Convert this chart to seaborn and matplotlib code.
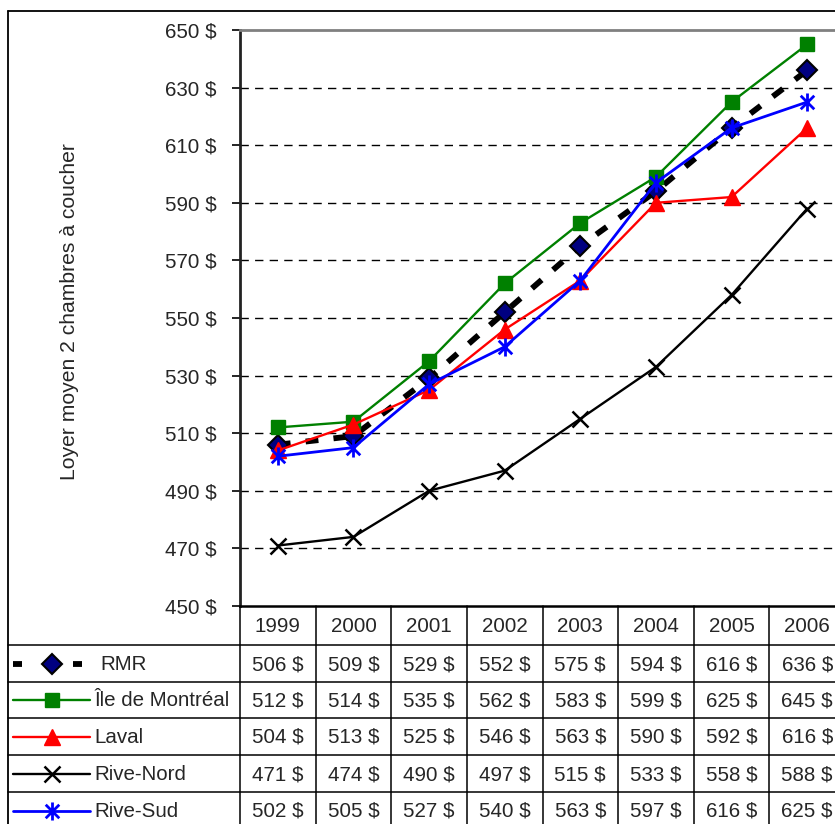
import numpy as np
import pandas as pd
import matplotlib
matplotlib.use("Agg")
import matplotlib.pyplot as plt
from matplotlib.path import Path
import seaborn as sns

# Average rent of a two-bedroom unit, by sector, 1999-2006
years = ["1999", "2000", "2001", "2002", "2003", "2004", "2005", "2006"]
series_names = ["RMR", "Île de Montréal", "Laval", "Rive-Nord", "Rive-Sud"]
rmr = [506, 509, 529, 552, 575, 594, 616, 636]
ile_montreal = [512, 514, 535, 562, 583, 599, 625, 645]
laval = [504, 513, 525, 546, 563, 590, 592, 616]
rive_nord = [471, 474, 490, 497, 515, 533, 558, 588]
rive_sud = [502, 505, 527, 540, 563, 597, 616, 625]
y_ticks = [450, 470, 490, 510, 530, 550, 570, 590, 610, 630, 650]
y_label = "Loyer moyen 2 chambres à coucher"

values = [rmr, ile_montreal, laval, rive_nord, rive_sud]

sns.set_style("white")
plt.rcParams["font.family"] = ["Liberation Sans", "DejaVu Sans"]
FS = 14.8

W, H = 835, 824
fig = plt.figure(figsize=(W / 100, H / 100), dpi=100)

# pixel layout helpers
def fx(px):
    return px / W

def fy(py):
    return 1 - py / H

plot_left, plot_right, plot_top, plot_bottom = 240, 845, 30, 606
ax = fig.add_axes([fx(plot_left), fy(plot_bottom),
                   fx(plot_right - plot_left), (plot_bottom - plot_top) / H])

# asterisk marker: vertical stroke plus two diagonals
ast = Path([(0, -1), (0, 1), (-0.75, -0.75), (0.75, 0.75), (-0.75, 0.75), (0.75, -0.75)],
           [Path.MOVETO, Path.LINETO, Path.MOVETO, Path.LINETO, Path.MOVETO, Path.LINETO])

styles = {
    "RMR": dict(color="black", lw=4.2, dashes=(2.2, 2.6), marker="D", ms=10.5,
                mfc="#000080", mec="black", mew=1.5),
    "Île de Montréal": dict(color="#008000", lw=1.7, dashes=None, marker="s", ms=10,
                            mfc="#008000", mec="#008000", mew=1),
    "Laval": dict(color="#ff0000", lw=1.7, dashes=None, marker="^", ms=11,
                  mfc="#ff0000", mec="#ff0000", mew=1),
    "Rive-Nord": dict(color="black", lw=1.7, dashes=None, marker="x", ms=11.5,
                      mfc="black", mec="black", mew=1.8),
    "Rive-Sud": dict(color="#0000ff", lw=2.0, dashes=None, marker=ast, ms=13,
                     mfc="#0000ff", mec="#0000ff", mew=2.0),
}

xpos = np.arange(len(years))
for i, (name, vals) in enumerate(zip(series_names, values)):
    st = styles[name]
    df = pd.DataFrame({"x": xpos, "y": vals})
    kw = {}
    if st["dashes"] is not None:
        kw["dashes"] = st["dashes"]
    sns.lineplot(data=df, x="x", y="y", ax=ax, color=st["color"], linewidth=st["lw"],
                 marker=st["marker"], markersize=st["ms"], markerfacecolor=st["mfc"],
                 markeredgecolor=st["mec"], markeredgewidth=st["mew"], zorder=3 + i,
                 clip_on=False, **kw)

ax.set_xlim(-0.5, len(years) - 0.5)
ax.set_ylim(450, 650)
ax.set_yticks(y_ticks)
ax.set_yticklabels([f"{v} $" for v in y_ticks], fontsize=FS)
ax.set_xticks([])
ax.set_xlabel("")
ax.set_ylabel("")
ax.tick_params(axis="y", which="major", direction="out", length=6, width=1.2,
               color="black", pad=11, left=True)
for v in y_ticks[1:-1]:
    ax.axhline(v, color="black", lw=1, dashes=(6, 4.5), zorder=1)
ax.spines["left"].set_color("#222222")
ax.spines["left"].set_linewidth(2)
ax.spines["top"].set_color("#808080")
ax.spines["top"].set_linewidth(2)
ax.spines["bottom"].set_color("black")
ax.spines["bottom"].set_linewidth(1.8)
ax.spines["right"].set_visible(False)

fig.text(fx(70), fy(312), y_label, rotation=90, ha="center", va="center", fontsize=FS + 0.4)

# overlay in pixel coordinates for the frame and the data table
ov = fig.add_axes([0, 0, 1, 1], facecolor="none")
ov.set_xlim(0, W)
ov.set_ylim(H, 0)
ov.axis("off")

# chart frame
ov.plot([8, W + 5], [11, 11], color="black", lw=1.3)
ov.plot([8, 8], [11, H + 5], color="black", lw=1.3)

col_w = (plot_right - plot_left) / len(years)
col_edges = [plot_left + k * col_w for k in range(len(years) + 1)]
row_edges = [606, 645, 682, 718, 755, 792, 829]

for ye in row_edges[1:]:
    ov.plot([8, W + 5], [ye, ye], color="black", lw=1.1)
for xe in col_edges:
    ov.plot([xe, xe], [606, H + 5], color="black", lw=1.1)

# header row
for j, yr in enumerate(years):
    cx = (col_edges[j] + col_edges[j + 1]) / 2
    ov.text(cx, (row_edges[0] + row_edges[1]) / 2 + 1, yr, ha="center", va="center", fontsize=FS)

# value rows with legend keys
for i, (name, vals) in enumerate(zip(series_names, values)):
    cy = (row_edges[i + 1] + row_edges[i + 2]) / 2 + 1
    st = styles[name]
    for j, v in enumerate(vals):
        cx = (col_edges[j] + col_edges[j + 1]) / 2
        ov.text(cx, cy, f"{v} $", ha="center", va="center", fontsize=FS)
    ky = cy - 1
    if name == "RMR":
        ov.plot([13, 22], [ky, ky], color="black", lw=4.2, solid_capstyle="butt")
        ov.plot([73, 82], [ky, ky], color="black", lw=4.2, solid_capstyle="butt")
        label_x = 100
    else:
        ov.plot([13, 90], [ky, ky], color=st["color"], lw=st["lw"])
        label_x = 94
    ov.plot([52], [ky], linestyle="none", marker=st["marker"], markersize=st["ms"],
            markerfacecolor=st["mfc"], markeredgecolor=st["mec"], markeredgewidth=st["mew"])
    ov.text(label_x, cy, name, ha="left", va="center", fontsize=FS)

fig.savefig("out.png", dpi=100)
